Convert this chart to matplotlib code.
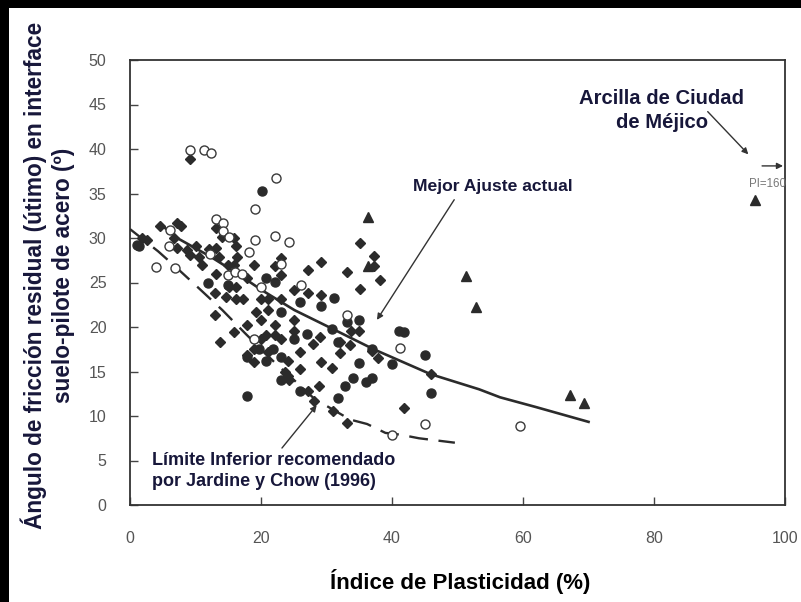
import matplotlib
matplotlib.use("Agg")
import matplotlib.pyplot as plt
from matplotlib.patches import Rectangle

# Índice de plasticidad (%) y ángulo de fricción residual (º)
diamond_x = [9.2, 1.8, 2.6, 4.6, 7.1, 7.8, 6.7, 7.2, 8.7, 10.0, 9.2, 10.5, 11.0, 13.1, 13.1,
             14.1, 15.9, 16.2, 13.6, 14.9, 15.9, 16.4, 13.1, 13.0, 13.0, 13.8, 15.9, 15.1,
             16.2, 16.2, 17.2, 19.0, 17.9, 19.2, 17.9, 20.0, 20.0, 21.0, 21.0, 22.1, 23.1,
             23.1, 22.1, 23.1, 23.1, 25.0, 27.2, 27.2, 29.1, 29.1, 25.0, 25.0, 25.9, 28.0,
             29.0, 29.1, 30.9, 25.9, 24.1, 28.9, 28.1, 33.1, 35.1, 37.3, 37.3, 38.2, 35.1,
             34.9, 33.8, 32.1, 33.6, 32.1, 37.9, 36.9, 33.1, 31.0, 41.8, 46.0, 12.1, 14.7,
             18.9, 17.8, 20.7, 22.1, 21.0, 18.9, 24.1, 23.6, 27.2, 24.2, 20.0]
diamond_y = [38.9, 30.0, 29.8, 31.4, 31.7, 31.3, 30.0, 28.9, 28.7, 29.1, 28.1, 27.9, 27.0, 31.1, 28.9,
             30.1, 30.0, 29.1, 27.9, 27.0, 27.0, 27.9, 26.0, 23.8, 21.3, 18.3, 19.4, 24.5,
             24.5, 23.2, 23.2, 27.0, 25.5, 21.7, 20.2, 20.8, 23.2, 23.2, 21.9, 20.2, 25.8,
             27.7, 26.8, 23.2, 18.7, 24.2, 26.4, 23.8, 27.3, 23.6, 20.8, 19.6, 17.2, 18.1,
             18.9, 16.1, 15.4, 15.3, 14.5, 13.4, 11.7, 26.2, 29.4, 28.0, 26.8, 25.3, 24.3,
             19.6, 19.6, 18.3, 18.0, 17.1, 16.5, 17.3, 9.2, 10.6, 10.9, 14.7, 28.8, 23.4,
             17.5, 16.8, 19.1, 19.1, 17.2, 16.1, 16.2, 14.9, 12.8, 14.0, 18.7]

filled_circle_x = [20.2, 1.0, 1.4, 11.9, 17.8, 26.0, 29.2, 31.1, 27.0, 23.1, 35.0, 34.9, 34.0,
                   36.9, 36.1, 32.8, 31.8, 45.0, 45.9, 40.0, 25.9, 23.1, 20.7, 21.9, 19.7,
                   23.1, 20.7, 22.1, 41.0, 41.8, 30.9, 36.9, 31.8, 14.9, 25.1, 17.9, 33.1]
filled_circle_y = [35.3, 29.2, 29.1, 25.0, 12.3, 22.8, 22.4, 23.3, 19.2, 21.7, 20.8, 16.0, 14.3,
                   14.3, 13.8, 13.4, 12.0, 16.9, 12.6, 15.8, 12.8, 14.0, 16.2, 17.5, 17.5,
                   16.6, 25.5, 25.1, 19.6, 19.4, 19.8, 17.5, 18.3, 24.7, 18.7, 16.6, 20.6]

open_circle_x = [9.2, 11.3, 12.3, 22.3, 19.1, 13.1, 14.2, 14.2, 15.1, 6.1, 5.9, 4.0, 6.9, 19.1,
                 22.1, 24.3, 18.1, 14.9, 16.1, 17.1, 23.1, 20.0, 26.1, 33.1, 18.9, 41.2, 45.0,
                 40.0, 12.2, 59.5]
open_circle_y = [39.9, 39.9, 39.5, 36.7, 33.3, 32.1, 31.7, 30.8, 30.1, 30.9, 29.1, 26.7, 26.6, 29.8,
                 30.2, 29.6, 28.4, 25.8, 26.2, 25.9, 27.1, 24.5, 24.7, 21.3, 18.6, 17.6, 9.1,
                 7.9, 28.2, 8.9]

triangle_x = [36.3, 36.3, 51.3, 52.8, 67.2, 69.3, 95.4]
triangle_y = [32.4, 26.8, 25.7, 22.3, 12.4, 11.5, 34.3]

# Mejor ajuste actual (línea continua)
fit_x = [4.4, 7.2, 12.3, 16.4, 20.0, 25.1, 30.9, 37.2, 45.9, 53.3, 56.5, 62.0, 70.2]
fit_y = [31.7, 30.0, 27.9, 26.0, 24.2, 21.9, 19.8, 17.5, 14.7, 13.0, 12.1, 11.0, 9.3]

# Límite inferior recomendado (línea discontinua)
lower_x = [0.0, 4.3, 6.9, 10.3, 14.1, 17.7, 22.1, 25.1, 28.2, 30.8, 33.6, 36.2, 39.0, 41.3, 44.1, 49.6]
lower_y = [31.0, 28.5, 26.8, 24.5, 21.9, 19.2, 16.0, 14.0, 11.9, 10.8, 9.6, 9.1, 8.1, 7.9, 7.5, 7.0]

x_ticks = [0, 20, 40, 60, 80, 100]
y_ticks = [0, 5, 10, 15, 20, 25, 30, 35, 40, 45, 50]

MARK = "#2b2b2b"
NAVY = "#17173a"
TICK_FONT = ["Liberation Sans", "DejaVu Sans"]
BOLD_FONT = ["Liberation Sans", "DejaVu Sans"]

fig = plt.figure(figsize=(8.01, 6.02), dpi=100)
fig.patch.set_facecolor("white")

# marco negro del escaneo (arriba e izquierda)
fig.patches.append(Rectangle((0, 1 - 8 / 602), 1, 8 / 602, transform=fig.transFigure,
                             facecolor="black", edgecolor="none", zorder=10))
fig.patches.append(Rectangle((0, 0), 9 / 801, 1, transform=fig.transFigure,
                             facecolor="black", edgecolor="none", zorder=10))

ax = fig.add_axes([130 / 801, 1 - 505 / 602, 655 / 801, 445 / 602])
ax.set_xlim(0, 100)
ax.set_ylim(0, 50)

ax.plot(fit_x, fit_y, color=MARK, lw=1.9, solid_capstyle="butt", zorder=3)
ax.plot(lower_x, lower_y, color=MARK, lw=1.7, dashes=(8, 4.5), zorder=3)

ax.plot(diamond_x, diamond_y, "D", ms=5.4, color=MARK, mec=MARK, ls="none", zorder=4)
ax.plot(filled_circle_x, filled_circle_y, "o", ms=6.5, color=MARK, mec=MARK, ls="none", zorder=4)
ax.plot(open_circle_x, open_circle_y, "o", ms=6.5, mfc="white", mec="#3a3a3a", mew=1.0,
        ls="none", zorder=5)
ax.plot(triangle_x, triangle_y, "^", ms=6.5, color=MARK, mec=MARK, ls="none", zorder=4)

arrow = dict(arrowstyle="-|>", lw=1.0, color="#333333", mutation_scale=9,
             shrinkA=0, shrinkB=0)

# rótulos y flechas
ax.text(43.2, 35.8, "Mejor Ajuste actual", fontsize=12.6, fontweight="bold", color=NAVY,
        family=BOLD_FONT, ha="left", va="center")
ax.annotate("", xy=(37.7, 20.8), xytext=(49.5, 34.3), arrowprops=arrow)

ax.text(3.3, 3.8, "Límite Inferior recomendado\npor Jardine y Chow (1996)", fontsize=13.0,
        fontweight="bold", color=NAVY, family=BOLD_FONT, ha="left", va="center",
        linespacing=1.35)
ax.annotate("", xy=(28.5, 11.2), xytext=(23.2, 6.4), arrowprops=arrow)

ax.text(81.2, 44.3, "Arcilla de Ciudad\nde Méjico", fontsize=14.6, fontweight="bold",
        color=NAVY, family=BOLD_FONT, ha="center", va="center", linespacing=1.3)
ax.annotate("", xy=(94.4, 39.4), xytext=(88.2, 44.2), arrowprops=arrow)

ax.annotate("", xy=(99.7, 38.1), xytext=(96.5, 38.1), arrowprops=arrow)
ax.text(97.3, 36.1, "PI=160", fontsize=8.3, color="#777777", family=TICK_FONT,
        ha="center", va="center")

for side in ["left", "right", "top", "bottom"]:
    ax.spines[side].set_color("#333333")
    ax.spines[side].set_linewidth(1.3)

ax.set_xticks(x_ticks)
ax.set_yticks(y_ticks)
ax.tick_params(axis="both", direction="in", length=6, width=1.0, color="#444444",
               labelsize=11.5, labelcolor="#555555")
ax.tick_params(axis="x", pad=19)
ax.tick_params(axis="y", pad=17)
for label in ax.get_xticklabels() + ax.get_yticklabels():
    label.set_family(TICK_FONT)

fig.text(460 / 801, 1 - 582 / 602, "Índice de Plasticidad (%)", fontsize=16,
         color="black", family=TICK_FONT, fontweight="bold", ha="center", va="center")
fig.text(48 / 801, 1 - 275 / 602,
         "Ángulo de fricción residual (útimo) en interface\nsuelo-pilote de acero (º)",
         rotation=90, fontsize=16.3, fontweight="bold", color=NAVY, family=BOLD_FONT,
         ha="center", va="center", linespacing=1.3, multialignment="center")

fig.savefig("out.png", dpi=100)
